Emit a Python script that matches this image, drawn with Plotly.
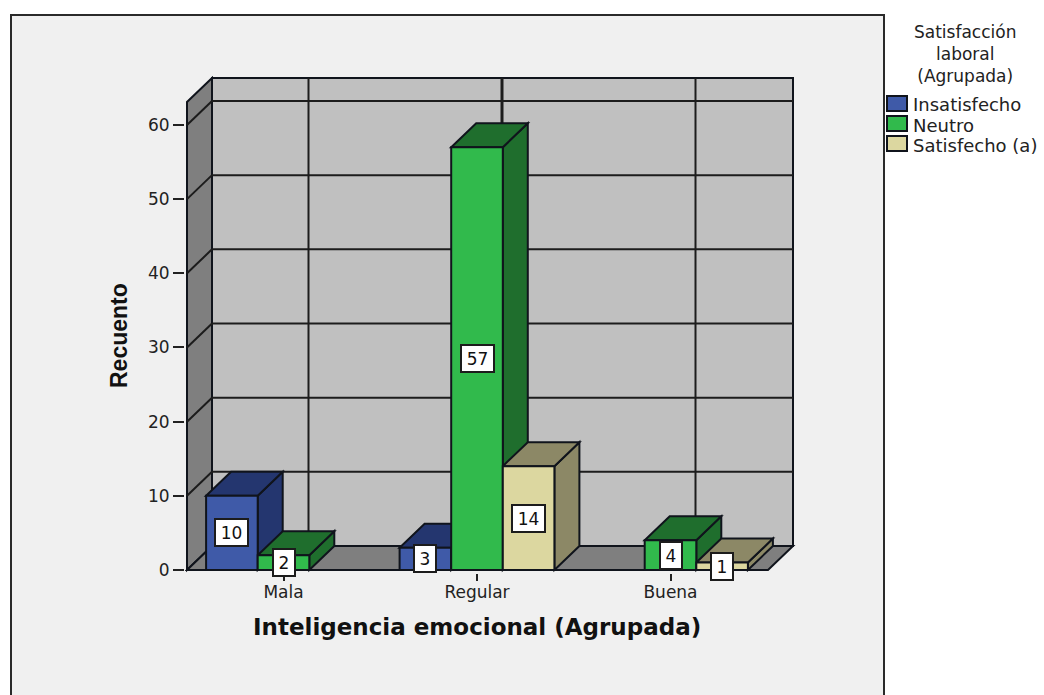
import plotly.graph_objects as go

# ---- data ----
categories = ["Mala", "Regular", "Buena"]
category_pos = [0, 1, 2]
y_ticks = [0, 10, 20, 30, 40, 50, 60]
series_names = ["Insatisfecho", "Neutro", "Satisfecho (a)"]
insatisfecho = [10, 3, None]
neutro = [2, 57, 4]
satisfecho = [None, 14, 1]

# ---- style ----
front = ["#3f5aa8", "#31ba4c", "#dcd7a0"]
shade = ["#24366f", "#1f6e2d", "#8c8866"]
edge = "#10141c"
W, H = 1044, 695
L, R, T, B = 185, 796, 76, 573      # plot rectangle in page pixels
PX_X, PX_Y = 193.5, 7.417           # pixels per data unit
ZERO_X, ZERO_Y = 283.5, 570
DX, DY = 25 / PX_X, 24 / PX_Y       # 3-D depth, in data units
x_range = [(L - ZERO_X) / PX_X, (R - ZERO_X) / PX_X]
y_range = [(ZERO_Y - B) / PX_Y, (ZERO_Y - T) / PX_Y]
BAR_W = 0.8 / 3
X_FRONT_L, X_FRONT_R = (187 - ZERO_X) / PX_X, (768 - ZERO_X) / PX_X
back_top = (ZERO_Y - 78) / PX_Y


def px(xp):
    return (xp - L) / (R - L)


def py(yp):
    return (B - yp) / (B - T)


def path(pts):
    return "M " + " L ".join(f"{x:.4f},{y:.4f}" for x, y in pts) + " Z"


def poly(pts, fill, width=2):
    return dict(type="path", path=path(pts), xref="x", yref="y", layer="below",
                fillcolor=fill, line=dict(color=edge, width=width))


def seg(p, q, width=2):
    return dict(type="line", x0=p[0], y0=p[1], x1=q[0], y1=q[1], xref="x", yref="y",
                layer="below", line=dict(color="#1c1c1c", width=width))


def page_text(xp, yp, text, size, family="DejaVu Sans", color="#222222", weight="normal",
              angle=0, anchor="center"):
    return dict(x=px(xp), y=py(yp), xref="paper", yref="paper", showarrow=False, text=text,
                xanchor=anchor, yanchor="middle", textangle=angle,
                font=dict(family=family, size=size, color=color, weight=weight))


shapes = [
    # chart frame
    dict(type="rect", xref="paper", yref="paper", x0=px(11), x1=px(884), y0=py(705), y1=py(15),
         fillcolor="#f0f0f0", line=dict(color="#2a2a2a", width=2), layer="below"),
    # walls and floor
    poly([(X_FRONT_L + DX, DY), (X_FRONT_R + DX, DY), (X_FRONT_R + DX, back_top),
          (X_FRONT_L + DX, back_top)], "#c0c0c0"),
    poly([(X_FRONT_L, 0), (X_FRONT_L + DX, DY), (X_FRONT_L + DX, back_top),
          (X_FRONT_L, back_top - DY)], "#7f7f7f"),
    poly([(X_FRONT_L, 0), (X_FRONT_R, 0), (X_FRONT_R + DX, DY), (X_FRONT_L + DX, DY)], "#7f7f7f"),
]
# gridlines, from the tick values
for t in y_ticks[1:]:
    shapes.append(seg((X_FRONT_L, t), (X_FRONT_L + DX, t + DY)))
    shapes.append(seg((X_FRONT_L + DX, t + DY), (X_FRONT_R + DX, t + DY)))
for c in category_pos:
    shapes.append(seg((c + DX, DY), (c + DX, back_top), width=3 if c == 1 else 2))

# side and top faces of each column, from the values
all_series = [insatisfecho, neutro, satisfecho]
annotations = []
for c in category_pos:
    for s, values in enumerate(all_series):
        v = values[c]
        if v is None:
            continue
        x0 = c + (s - 1.5) * BAR_W
        x1 = x0 + BAR_W
        shapes.append(poly([(x1, 0), (x1 + DX, DY), (x1 + DX, v + DY), (x1, v)], shade[s]))
        shapes.append(poly([(x0, v), (x0 + DX, v + DY), (x1 + DX, v + DY), (x1, v)], shade[s]))
        annotations.append(dict(
            x=(x0 + x1) / 2, y=v / 2, xref="x", yref="y", text=str(v), showarrow=False,
            font=dict(family="DejaVu Sans", size=17, color="#111111"),
            bgcolor="white", bordercolor="#1c1c1c", borderwidth=2, borderpad=0,
            width=9 + 11 * len(str(v)), height=25))

fig = go.Figure()
for s, name in enumerate(series_names):
    fig.add_trace(go.Bar(x=category_pos, y=all_series[s], name=name,
                         marker=dict(color=front[s], line=dict(color=edge, width=2))))

# titles
annotations += [
    page_text(477, 627, "Inteligencia emocional (Agrupada)", 23, color="#111111", weight="bold"),
    page_text(119, 336, "Recuento", 23, family="Liberation Sans", color="#111111", weight="bold", angle=-90),
    page_text(965, 54, "Satisfacción<br>laboral<br>(Agrupada)", 17),
]

# legend key
for name, f, (top, bot), yc in zip(series_names, front, [(96, 111), (116, 131), (136, 151)], [104.5, 125, 145.5]):
    shapes.append(dict(type="rect", xref="paper", yref="paper", x0=px(887), x1=px(907),
                       y0=py(bot), y1=py(top), fillcolor=f, line=dict(color=edge, width=2)))
    annotations.append(page_text(911, yc, name, 18, anchor="left"))

fig.update_layout(
    width=W, height=H, autosize=False,
    margin=dict(l=L, r=W - R, t=T, b=H - B, pad=0),
    paper_bgcolor="white", plot_bgcolor="rgba(0,0,0,0)",
    barmode="group", bargap=0.2, bargroupgap=0,
    font=dict(family="DejaVu Sans", size=16, color="#222222"),
    shapes=shapes, annotations=annotations, showlegend=False,
    xaxis=dict(range=x_range, tickmode="array", tickvals=category_pos, ticktext=categories,
               showgrid=False, zeroline=False, showline=False, ticks="outside", ticklen=7,
               tickwidth=2, tickcolor="#222222", tickfont=dict(size=17), ticklabelstandoff=-3),
    yaxis=dict(range=y_range, tickmode="array", tickvals=y_ticks, showgrid=False, zeroline=False,
               showline=False, ticks="outside", ticklen=11, tickwidth=2, tickcolor="#222222",
               tickfont=dict(size=17)),
)

fig.write_html("out.html", config={"displayModeBar": False},
               post_script="document.body.style.margin='0';document.documentElement.style.overflow='hidden';")
